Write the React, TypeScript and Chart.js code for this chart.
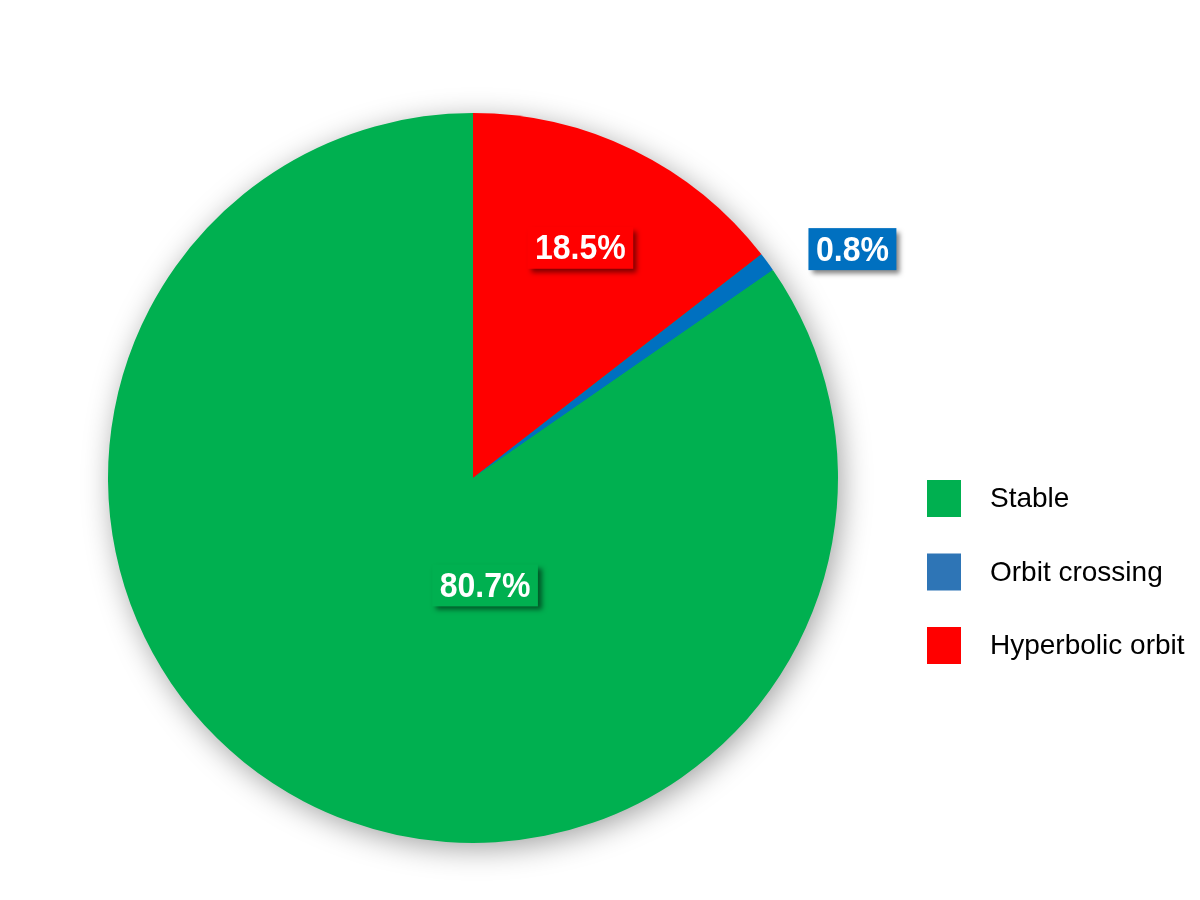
import React, { useEffect, useRef } from "react";
import { Chart, registerables } from "chart.js";

Chart.register(...registerables);

// Slices in clockwise order starting at 12 o'clock
const categories = ["Hyperbolic orbit", "Orbit crossing", "Stable"];
const sliceShares = [14.5, 0.85, 84.65];
const percentLabels = ["18.5%", "0.8%", "80.7%"];
const sliceColors = ["#FF0000", "#0070C0", "#00B050"];
const legendColors = ["#FF0000", "#2E75B6", "#00B050"];

const FONT = "'Liberation Sans', Arial, Helvetica, sans-serif";

// label placement relative to the pie: angle (deg, clockwise from top) and fraction of radius
const labelPlacement = [
  { angle: 25, frac: 0.696 },
  { angle: 58.9, frac: 1.214 },
  { angle: 173.6, frac: 0.296 },
];

const pieShadowPlugin = {
  id: "pieShadow",
  beforeDatasetsDraw(chart: any) {
    const el = chart.getDatasetMeta(0).data[0];
    if (!el) return;
    const { x, y, outerRadius } = el.getProps(["x", "y", "outerRadius"], true);
    const ctx = chart.ctx;
    ctx.save();
    ctx.shadowColor = "rgba(0,0,0,0.38)";
    ctx.shadowBlur = 30;
    ctx.shadowOffsetX = 4;
    ctx.shadowOffsetY = 6;
    ctx.beginPath();
    ctx.arc(x, y, outerRadius - 1, 0, Math.PI * 2);
    ctx.fillStyle = sliceColors[2];
    ctx.fill();
    ctx.restore();
  },
};

const labelPlugin = {
  id: "sliceLabels",
  afterDatasetsDraw(chart: any) {
    const meta = chart.getDatasetMeta(0);
    const ctx = chart.ctx;
    ctx.save();
    ctx.font = `bold 32px ${FONT}`;
    meta.data.forEach((el: any, i: number) => {
      const { x, y, outerRadius } = el.getProps(["x", "y", "outerRadius"], true);
      const p = labelPlacement[i];
      const a = (p.angle * Math.PI) / 180;
      const cx = x + outerRadius * p.frac * Math.sin(a);
      const cy = y - outerRadius * p.frac * Math.cos(a);
      const text = percentLabels[i];
      const tw = ctx.measureText(text).width;
      const bw = tw + 15;
      const bh = 42;
      ctx.save();
      ctx.shadowColor = "rgba(0,0,0,0.5)";
      ctx.shadowBlur = 5;
      ctx.shadowOffsetX = 4;
      ctx.shadowOffsetY = 4;
      ctx.fillStyle = sliceColors[i];
      ctx.fillRect(cx - bw / 2, cy - bh / 2, bw, bh);
      ctx.restore();
      ctx.save();
      ctx.translate(cx, cy + 2);
      ctx.scale(1, 1.1);
      ctx.fillStyle = "#FFFFFF";
      ctx.textAlign = "center";
      ctx.textBaseline = "middle";
      ctx.fillText(text, 0, 0);
      ctx.restore();
    });
    ctx.restore();
  },
};

const legendPlugin = {
  id: "customLegend",
  afterDraw(chart: any) {
    const ctx = chart.ctx;
    const labels: string[] = chart.data.labels;
    const order = labels.map((_, i) => i).reverse();
    ctx.save();
    ctx.font = `28px ${FONT}`;
    ctx.textBaseline = "middle";
    ctx.textAlign = "left";
    order.forEach((idx, row) => {
      const cy = 498.5 + row * 73.5;
      ctx.fillStyle = legendColors[idx];
      ctx.fillRect(927, cy - 18.5, 34, 37);
      ctx.fillStyle = "#000000";
      ctx.fillText(labels[idx], 990, cy + 1);
    });
    ctx.restore();
  },
};

export default function App() {
  const ref = useRef<HTMLCanvasElement | null>(null);
  useEffect(() => {
    if (!ref.current) return;
    const chart = new Chart(ref.current, {
      type: "pie",
      data: {
        labels: categories,
        datasets: [
          {
            data: sliceShares,
            backgroundColor: sliceColors,
            borderWidth: 0,
          },
        ],
      },
      options: {
        responsive: false,
        devicePixelRatio: 1,
        animation: false,
        rotation: 0,
        layout: { padding: { left: 108, right: 362, top: 113, bottom: 57 } },
        plugins: {
          legend: { display: false },
          tooltip: { enabled: false },
        },
      },
      plugins: [pieShadowPlugin, labelPlugin, legendPlugin],
    });
    return () => chart.destroy();
  }, []);
  return (
    <div style={{ position: "fixed", left: 0, top: 0, width: 1200, height: 900, background: "#fff" }}>
      <canvas ref={ref} width={1200} height={900} style={{ display: "block" }} />
    </div>
  );
}
